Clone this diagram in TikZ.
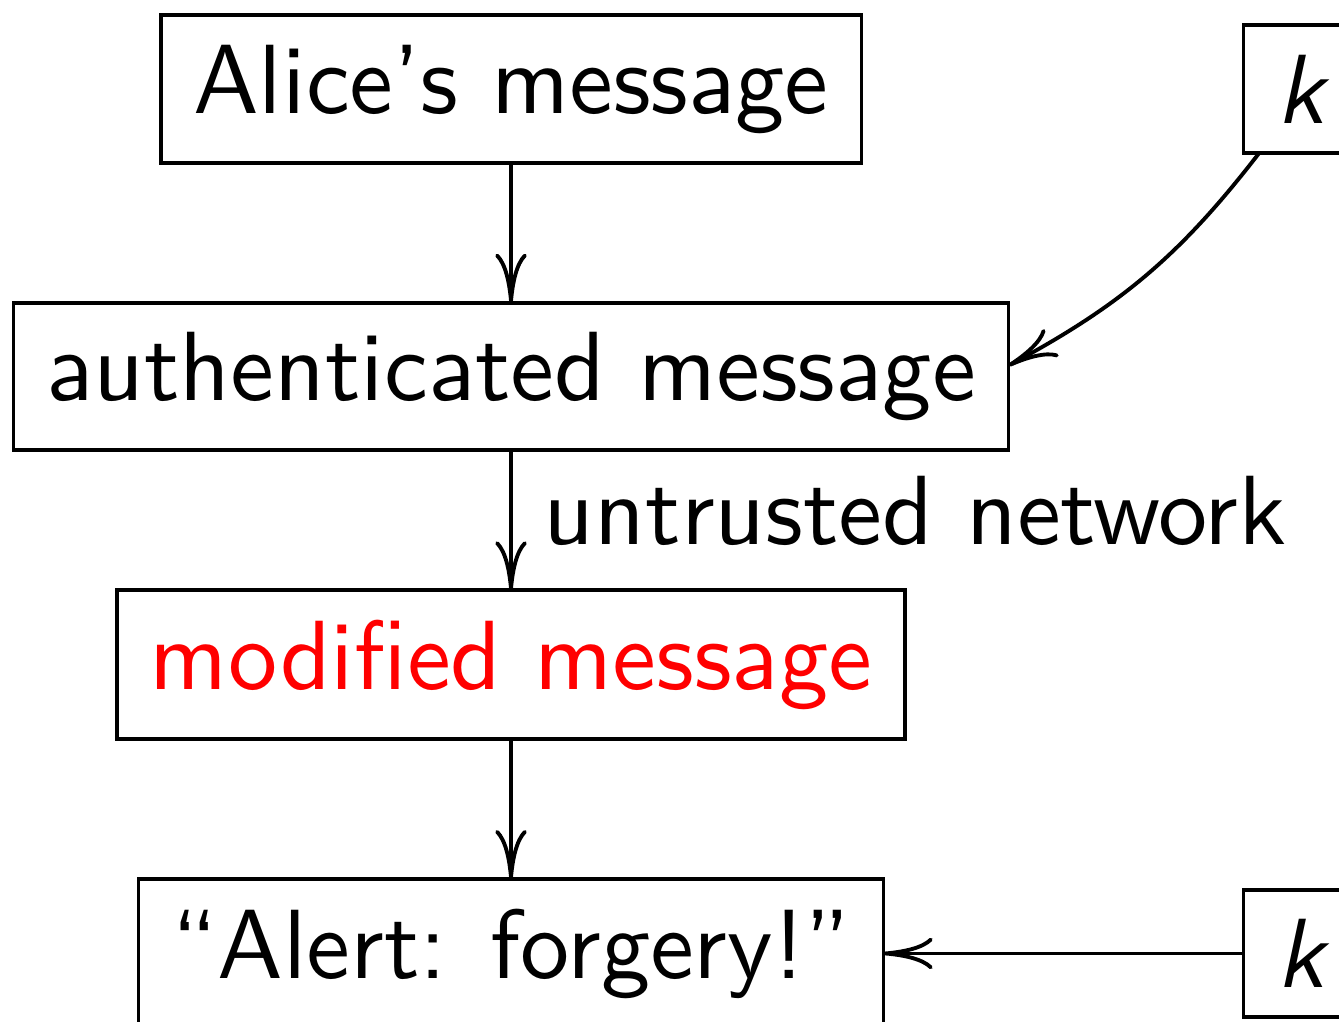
\documentclass[tikz,border=0pt]{standalone}
\usepackage{tikz}
\usepackage{xcolor}
\usetikzlibrary{positioning,arrows.meta}
\tikzset{
  box/.style={draw, line width=1.1pt, scale=2.8, font=\sffamily, inner xsep=3.33pt, inner ysep=3pt, outer sep=0pt},
  arrow/.style={-{Computer Modern Rightarrow[length=14pt,width=9pt]}, line width=1.1pt}
}

\begin{document}
\begin{tikzpicture}[node distance=1.4cm]
        \useasboundingbox (0,0) rectangle (13.39,-10.22);
        \clip (0,0) rectangle (13.39,-10.22);
        \node[box] (alice) at (5.11,-0.89) {Alice’s message};
        \node[box, below=of alice] (auth) {authenticated message};
        \node[box, below=of auth] (modif) {\color{red}modified message};
        \node[box, below=of modif] (alert) {“Alert: forgery!”};
        \node[box, right=3.82cm of alice] (ktop) {\itshape k};
        \node[box] (kbot) at (ktop |- alert) {\itshape k};
        \foreach \a/\b in {alice/auth,modif/alert}{\draw[arrow] (\a) -- (\b);}
        \draw[arrow] (auth) -- node[right, scale=2.8, font=\sffamily, outer sep=0pt, pos=0.43] (net) {untrusted network} (modif);
        \draw[arrow] ([xshift=0.16cm]ktop.south west) to[bend left=12] ([yshift=0.11cm]auth.east);
        \draw[arrow] (kbot) -- (alert);
      \end{tikzpicture}
\end{document}
